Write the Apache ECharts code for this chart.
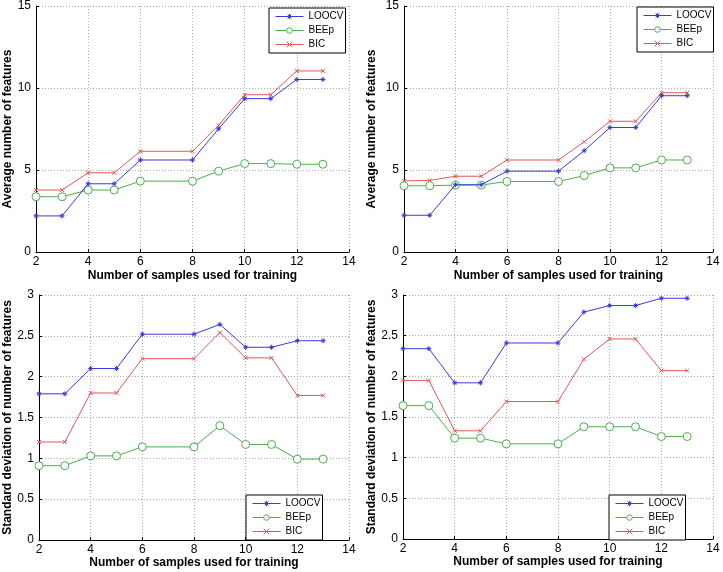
<!DOCTYPE html>
<html>
<head>
<meta charset="utf-8">
<script src="https://cdn.jsdelivr.net/npm/echarts@6/dist/echarts.min.js"></script>
<style>
html,body{margin:0;padding:0;background:#fff;}
#chart{width:723px;height:572px;}
</style>
</head>
<body>
<div id="chart"></div>
<script>
var samples = [2, 3, 4, 5, 6, 8, 9, 10, 11, 12, 13];
var seriesNames = ['LOOCV', 'BEEp', 'BIC'];
var xTitle = 'Number of samples used for training';
var yTitleAvg = 'Average number of features';
var yTitleStd = 'Standard deviation of number of features';

// Panel 1 (top-left): average number of features
var avgA_LOOCV = [2.2, 2.2, 4.16, 4.16, 5.61, 5.61, 7.51, 9.35, 9.35, 10.52, 10.52];
var avgA_BEEp  = [3.37, 3.37, 3.78, 3.78, 4.32, 4.32, 4.93, 5.39, 5.39, 5.35, 5.35];
var avgA_BIC   = [3.78, 3.78, 4.83, 4.83, 6.14, 6.14, 7.73, 9.59, 9.59, 11.04, 11.04];

// Panel 2 (top-right): average number of features
var avgB_LOOCV = [2.24, 2.24, 4.1, 4.1, 4.93, 4.93, 6.18, 7.59, 7.59, 9.53, 9.53];
var avgB_BEEp  = [4.04, 4.04, 4.08, 4.08, 4.3, 4.3, 4.66, 5.13, 5.13, 5.61, 5.61];
var avgB_BIC   = [4.34, 4.36, 4.62, 4.62, 5.61, 5.61, 6.72, 7.97, 7.97, 9.71, 9.71];

// Panel 3 (bottom-left): standard deviation
var stdA_LOOCV = [1.79, 1.79, 2.10, 2.10, 2.52, 2.52, 2.64, 2.36, 2.36, 2.44, 2.44];
var stdA_BEEp  = [0.91, 0.91, 1.03, 1.03, 1.14, 1.14, 1.40, 1.17, 1.17, 0.99, 0.99];
var stdA_BIC   = [1.20, 1.20, 1.80, 1.80, 2.22, 2.22, 2.54, 2.23, 2.23, 1.77, 1.77];

// Panel 4 (bottom-right): standard deviation
var stdB_LOOCV = [2.34, 2.34, 1.92, 1.92, 2.41, 2.41, 2.79, 2.87, 2.87, 2.96, 2.96];
var stdB_BEEp  = [1.64, 1.64, 1.24, 1.24, 1.17, 1.17, 1.38, 1.38, 1.38, 1.26, 1.26];
var stdB_BIC   = [1.95, 1.95, 1.33, 1.33, 1.69, 1.69, 2.21, 2.46, 2.46, 2.07, 2.07];

var panelData = [
  [avgA_LOOCV, avgA_BEEp, avgA_BIC],
  [avgB_LOOCV, avgB_BEEp, avgB_BIC],
  [stdA_LOOCV, stdA_BEEp, stdA_BIC],
  [stdB_LOOCV, stdB_BEEp, stdB_BIC]
];

var colors = ['#3a3ad8', '#4caf4c', '#e05858'];
var symbols = [
  'path://M5,0L5,10M0,5L10,5M1.6,1.6L8.4,8.4M8.4,1.6L1.6,8.4',
  'circle',
  'path://M0,0L10,10M10,0L0,10'
];
var symbolSizes = [5, 8, 4];
var fills = ['#3a3ad8', '#ffffff', '#e05858'];

var grids = [
  {left: 36, top: 4, width: 313, height: 248},
  {left: 404, top: 4, width: 309, height: 248},
  {left: 39, top: 295, width: 310, height: 245},
  {left: 403, top: 295, width: 310, height: 244}
];

var legends = [
  {left: 269, top: 8},
  {left: 637, top: 7},
  {left: 246, top: 495},
  {left: 609, top: 495}
];

var xNameGaps = [18, 18, 15, 15];
var yNameGaps = [22, 26, 25, 25];

var font = 'Liberation Sans, Arial, sans-serif';

var xAxes = [], yAxes = [], series = [], legendOpts = [];
for (var p = 0; p < 4; p++) {
  var isAvg = p < 2;
  xAxes.push({
    type: 'value', gridIndex: p, min: 2, max: 14, interval: 2,
    name: xTitle, nameLocation: 'middle', nameGap: xNameGaps[p],
    nameTextStyle: {fontFamily: font, fontWeight: 'bold', fontSize: 12, color: '#000'},
    axisLine: {show: true, onZero: false, lineStyle: {color: '#000', width: 1}},
    axisTick: {show: true, inside: true, length: 3, lineStyle: {color: '#000'}},
    axisLabel: {fontFamily: font, fontSize: 12, color: '#000', margin: 4},
    splitLine: {show: true, lineStyle: {color: '#aaa', type: [1, 2], width: 1}}
  });
  yAxes.push({
    type: 'value', gridIndex: p,
    min: 0, max: isAvg ? 15 : 3, interval: isAvg ? 5 : 0.5,
    name: isAvg ? yTitleAvg : yTitleStd, nameLocation: 'middle', nameGap: yNameGaps[p],
    nameTextStyle: {fontFamily: font, fontWeight: 'bold', fontSize: 12, color: '#000'},
    axisLine: {show: true, onZero: false, lineStyle: {color: '#000', width: 1}},
    axisTick: {show: true, inside: true, length: 3, lineStyle: {color: '#000'}},
    axisLabel: {fontFamily: font, fontSize: 12, color: '#000', margin: 5},
    splitLine: {show: true, lineStyle: {color: '#aaa', type: [1, 2], width: 1}}
  });
  for (var s = 0; s < 3; s++) {
    var vals = panelData[p][s];
    var pts = [];
    for (var i = 0; i < samples.length; i++) pts.push([samples[i], vals[i]]);
    series.push({
      name: seriesNames[s], type: 'line', xAxisIndex: p, yAxisIndex: p,
      data: pts, symbol: symbols[s], symbolSize: symbolSizes[s], showSymbol: true,
      lineStyle: {color: colors[s], width: 1},
      itemStyle: {color: fills[s], borderColor: colors[s], borderWidth: 1},
      animation: false, z: 3 - s
    });
  }
  legendOpts.push({
    left: legends[p].left, top: legends[p].top, orient: 'vertical',
    data: seriesNames, backgroundColor: '#fff', borderColor: '#000', borderWidth: 1,
    padding: [3, 2, 3, 6], itemWidth: 28, itemHeight: 7, itemGap: 3,
    itemStyle: {borderWidth: 1},
    lineStyle: {width: 1},
    textStyle: {fontFamily: font, fontSize: 10, lineHeight: 11, color: '#000'},
    selectedMode: false
  });
}

var chart = echarts.init(document.getElementById('chart'));
chart.setOption({
  animation: false,
  backgroundColor: '#fff',
  grid: grids,
  xAxis: xAxes,
  yAxis: yAxes,
  legend: legendOpts,
  series: series
});
</script>
</body>
</html>
